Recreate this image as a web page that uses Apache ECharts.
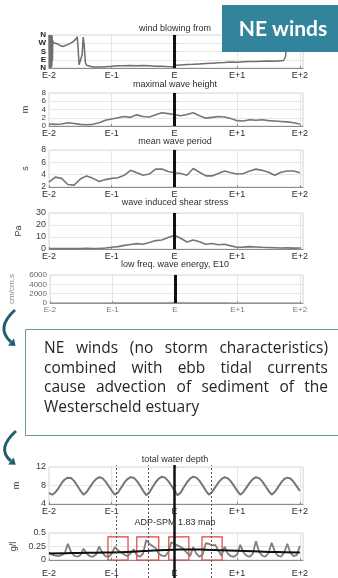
<!DOCTYPE html>
<html>
<head>
<meta charset="utf-8">
<script src="https://cdn.jsdelivr.net/npm/echarts@6/dist/echarts.min.js"></script>
<style>
  html, body { margin: 0; padding: 0; background: #fff; }
  #c { width: 338px; height: 578px; }
</style>
</head>
<body>
<div id="c"></div>
<script>
// ---- time axis: days relative to the event E ----
const dayLabels = { '-2': 'E-2', '-1': 'E-1', '0': 'E', '1': 'E+1', '2': 'E+2' };
const dirLabels = { 0: 'N', 90: 'E', 180: 'S', 270: 'W', 360: 'N' };
const eventMark = [0];

// ---- wind direction (degrees, irregular sampling) ----
const windTime = [-2.000, -1.995, -1.990, -1.985, -1.980, -1.975, -1.970, -1.965, -1.960, -1.955, -1.950, -1.945,
  -1.94, -1.93, -1.90, -1.86, -1.82, -1.78, -1.74, -1.70, -1.66, -1.62, -1.58, -1.55, -1.535, -1.52, -1.49, -1.47,
  -1.455, -1.44, -1.42, -1.40, -1.37, -1.30, -1.20, -1.10, -1.00, -0.90, -0.80, -0.70, -0.60, -0.50, -0.40, -0.30,
  -0.20, -0.10, -0.02, 0.02, 0.10, 0.20, 0.30, 0.40, 0.50, 0.60, 0.70, 0.80, 0.90, 1.00, 1.10, 1.20, 1.30, 1.40,
  1.50, 1.60, 1.70, 1.74, 1.77, 1.79, 1.82, 1.87, 1.92, 1.97, 2.02];
const windDir = [360, 0, 360, 0, 360, 0, 360, 0, 360, 20, 350, 80,
  300, 275, 270, 262, 245, 235, 245, 255, 268, 285, 310, 340, 200, 35, 30, 150,
  338, 260, 60, 30, 20, 12, 10, 14, 18, 25, 24, 27, 25, 28, 24, 20,
  18, 15, 14, 30, 34, 38, 40, 44, 48, 52, 56, 60, 66, 64, 68, 72, 70, 74,
  76, 74, 80, 82, 120, 230, 300, 315, 305, 310, 300];

// ---- wave statistics, every 0.1 day from E-2 ----
const WAVE_START = -2, WAVE_STEP = 0.1;
const waveHeight = [0.5, 0.4, 0.5, 0.8, 0.6, 0.4, 0.3, 0.4, 0.8, 1.4,
  1.7, 2.0, 2.3, 2.1, 2.7, 2.3, 2.2, 2.7, 3.2, 3.0,
  2.8, 2.5, 2.8, 3.2, 2.5, 1.9, 2.1, 2.3, 2.2, 1.8,
  1.3, 1.2, 1.5, 1.4, 1.5, 1.3, 1.2, 1.1, 1.0, 0.8, 0.5];
const wavePeriod = [2.8, 3.6, 3.4, 2.4, 2.3, 3.3, 3.8, 3.4, 2.9, 3.2,
  3.4, 3.5, 3.9, 4.7, 4.3, 3.9, 4.1, 4.9, 4.9, 4.5,
  4.3, 4.2, 3.9, 5.0, 4.4, 3.8, 3.8, 4.2, 4.6, 4.3,
  4.1, 4.2, 4.6, 4.9, 4.7, 4.4, 3.9, 4.4, 4.6, 4.6, 4.3];
const shearStress = [0.3, 0.3, 0.3, 0.4, 0.3, 0.4, 0.5, 0.4, 0.5, 0.8,
  1.5, 2.0, 3.0, 3.8, 4.5, 4.0, 5.5, 7.0, 7.5, 9.5,
  11.5, 9.0, 5.8, 7.5, 6.0, 4.0, 4.6, 3.5, 4.0, 2.6,
  1.4, 1.6, 2.0, 1.7, 1.4, 1.2, 1.0, 0.8, 0.9, 0.7, 0.8];
const lowFreqEnergy = [40, 35, 30, 45, 50, 40, 35, 30, 40, 55,
  60, 70, 65, 80, 75, 90, 85, 100, 110, 120,
  140, 120, 100, 90, 85, 80, 70, 65, 60, 55,
  50, 45, 50, 40, 45, 40, 35, 40, 30, 35, 30];

// ---- in-situ station, every 0.05 day from E-2 ----
const TIDE_START = -2, TIDE_STEP = 0.05;
const waterDepth = [6.4, 6.0, 6.5, 7.4, 8.5, 9.3, 9.7, 9.6, 9.0, 8.0,
  6.9, 6.0, 6.6, 7.6, 8.6, 9.4, 9.8, 9.6, 8.9, 7.9,
  6.9, 6.0, 6.5, 7.5, 8.6, 9.4, 9.8, 9.7, 9.0, 8.0,
  6.9, 5.9, 6.5, 7.6, 8.7, 9.5, 9.9, 9.7, 9.0, 8.0,
  6.9, 5.9, 6.5, 7.6, 8.7, 9.5, 9.9, 9.7, 9.0, 8.0,
  6.9, 6.0, 6.6, 7.6, 8.6, 9.4, 9.8, 9.6, 8.9, 7.9,
  6.9, 6.0, 6.6, 7.6, 8.6, 9.4, 9.8, 9.6, 8.9, 7.9,
  6.9, 6.0, 6.6, 7.6, 8.6, 9.4, 9.7, 9.5, 8.8, 7.8, 6.8];
const spm = [0.14, 0.10, 0.08, 0.07, 0.09, 0.12, 0.30, 0.15, 0.08, 0.06,
  0.09, 0.21, 0.12, 0.07, 0.06, 0.10, 0.25, 0.13, 0.07, 0.06,
  0.12, 0.24, 0.18, 0.14, 0.10, 0.07, 0.12, 0.20, 0.09, 0.06,
  0.12, 0.37, 0.30, 0.26, 0.22, 0.12, 0.08, 0.07, 0.14, 0.33,
  0.30, 0.27, 0.24, 0.20, 0.13, 0.07, 0.24, 0.12, 0.06, 0.10,
  0.31, 0.30, 0.27, 0.28, 0.18, 0.08, 0.25, 0.12, 0.07, 0.06,
  0.10, 0.28, 0.14, 0.08, 0.06, 0.12, 0.35, 0.15, 0.08, 0.06,
  0.13, 0.32, 0.16, 0.08, 0.06, 0.14, 0.30, 0.13, 0.07, 0.09, 0.26];
const TREND_START = -2, TREND_STEP = 0.25;
const spmTrend = [0.12, 0.125, 0.13, 0.135, 0.14, 0.15, 0.165, 0.18, 0.19,
  0.195, 0.19, 0.18, 0.17, 0.16, 0.15, 0.145, 0.14];

// ebb phases highlighted in the SPM record, and low-water times
const ebbStart = [-1.06, -0.60, -0.09, 0.44];
const ebbEnd = [-0.74, -0.25, 0.23, 0.76];
const ebbTop = 0.43;
const lowWater = [-0.92, -0.42, 0.58];

const noteLines = [
  'NE winds (no storm characteristics)',
  'combined with ebb tidal currents',
  'cause advection of sediment of the',
  'Westerscheld estuary'
];

// ---------------------------------------------------------------
const FONT = 'Liberation Sans, Arial, sans-serif';
const LINE_GREY = '#767676';
const X_MIN = -2, X_MAX = 2.05;
const PLOT_LEFT = 49, PLOT_WIDTH = 254;

const withTime = (vals, start, step) =>
  vals.map((v, i) => [Math.round((start + i * step) * 1000) / 1000, v]);

const panels = [
  { title: 'wind blowing from', titleY: 29, top: 35, h: 33, min: 0, max: 360, step: 90, unit: '', gap: 0, fmt: v => dirLabels[v] ?? '', yBold: true, ySize: 8 },
  { title: 'maximal wave height', titleY: 85, top: 93, h: 33, min: 0, max: 8, step: 2, unit: 'm', gap: 19, ySize: 8 },
  { title: 'mean wave period', titleY: 142, top: 150, h: 37, min: 2, max: 8, step: 2, unit: 's', gap: 19, ySize: 8.5 },
  { title: 'wave induced shear stress', titleY: 203, top: 213, h: 36, min: 0, max: 30, step: 10, unit: 'Pa', gap: 26, ySize: 9 },
  { title: 'low freq. wave energy, E10', titleY: 265, top: 275, h: 28, min: 0, max: 6000, step: 2000, unit: 'cm/cm.s', gap: 34, light: true, ySize: 8 },
  { title: 'total water depth', titleY: 460, top: 467, h: 37, min: 4, max: 12, step: 4, unit: 'm', gap: 28, ySize: 9 },
  { title: 'ADP-SPM 1.83 mab', titleY: 523, top: 533, h: 36, min: 0, max: 0.5, step: 0.25, unit: 'g/l', gap: 31, ySize: 9, xMargin: 9 }
];

const grids = [], xAxes = [], yAxes = [], graphics = [];
panels.forEach((p, i) => {
  grids.push({ left: PLOT_LEFT, width: PLOT_WIDTH, top: p.top, height: p.h, show: true, borderColor: '#d9d9d9', borderWidth: 1, containLabel: false });
  xAxes.push({
    type: 'value', gridIndex: i, min: X_MIN, max: X_MAX, interval: 1,
    axisLine: { show: true, onZero: false, lineStyle: { color: '#8c8c8c', width: 1 } },
    axisTick: { show: true, inside: true, length: 2, lineStyle: { color: '#8c8c8c' } },
    splitLine: { show: true, lineStyle: { color: '#e6e6e6', width: 1 } },
    axisLabel: {
      formatter: v => dayLabels[String(Math.round(v * 1000) / 1000)] ?? '',
      fontSize: p.light ? 8 : 9, color: p.light ? '#777' : '#2a2a2a', fontFamily: FONT, margin: p.xMargin || 3,
      showMinLabel: true, showMaxLabel: false, hideOverlap: false
    }
  });
  yAxes.push({
    type: 'value', gridIndex: i, min: p.min, max: p.max, interval: p.step,
    name: p.unit, nameLocation: 'middle', nameRotate: 90, nameGap: p.gap,
    nameTextStyle: { fontSize: p.light ? 8 : 9, color: p.light ? '#888' : '#3a3a3a', fontFamily: FONT },
    axisLine: { show: true, lineStyle: { color: '#8c8c8c', width: 1 } },
    axisTick: { show: true, inside: true, length: 2, lineStyle: { color: '#8c8c8c' } },
    splitLine: { show: true, lineStyle: { color: '#e6e6e6', width: 1 } },
    axisLabel: {
      formatter: p.fmt || (v => String(v)),
      fontSize: p.ySize, fontWeight: p.yBold ? 'bold' : 'normal',
      color: p.light ? '#666' : (p.yBold ? '#222' : '#3a3a3a'), fontFamily: FONT, margin: 3,
      lineHeight: p.ySize, showMinLabel: true, showMaxLabel: true, hideOverlap: false
    }
  });
  graphics.push({
    type: 'text', x: 175, y: p.titleY, z: 10,
    style: { text: p.title, fill: '#2e2e2e', font: '9px ' + FONT, textAlign: 'center', textVerticalAlign: 'middle' }
  });
});

// overlay spanning both station panels for the low-water and event markers
grids.push({ left: PLOT_LEFT, width: PLOT_WIDTH, top: 465, height: 113, show: false });
xAxes.push({ type: 'value', gridIndex: 7, min: X_MIN, max: X_MAX, show: false });
yAxes.push({ type: 'value', gridIndex: 7, min: 0, max: 1, show: false });

const eLine = w => ({
  symbol: ['none', 'none'], silent: true, animation: false, label: { show: false },
  lineStyle: { color: '#111', width: w, type: 'solid' },
  emphasis: { disabled: true },
  data: eventMark.map(v => ({ xAxis: v }))
});

const lineSeries = (idx, data, extra) => Object.assign({
  type: 'line', xAxisIndex: idx, yAxisIndex: idx, data, showSymbol: false, symbol: 'none',
  lineStyle: { color: LINE_GREY, width: 1.6 }, animation: false, silent: true, z: 3
}, extra || {});

const series = [
  lineSeries(0, windTime.map((t, i) => [t, windDir[i]]), { lineStyle: { color: '#6e6e6e', width: 1.5 }, markLine: eLine(3) }),
  lineSeries(1, withTime(waveHeight, WAVE_START, WAVE_STEP), { markLine: eLine(3) }),
  lineSeries(2, withTime(wavePeriod, WAVE_START, WAVE_STEP), { markLine: eLine(3) }),
  lineSeries(3, withTime(shearStress, WAVE_START, WAVE_STEP), { markLine: eLine(3) }),
  lineSeries(4, withTime(lowFreqEnergy, WAVE_START, WAVE_STEP), { lineStyle: { color: '#aaa', width: 1.2 }, markLine: eLine(3) }),
  lineSeries(5, withTime(waterDepth, TIDE_START, TIDE_STEP), { lineStyle: { color: LINE_GREY, width: 2 } }),
  lineSeries(6, withTime(spm, TIDE_START, TIDE_STEP), {
    lineStyle: { color: '#7f7f7f', width: 1.8 },
    markArea: {
      silent: true, animation: false,
      itemStyle: { color: 'rgba(0,0,0,0)', borderColor: '#e0403a', borderWidth: 1.2 },
      label: { show: false },
      data: ebbStart.map((s, i) => [{ xAxis: s, yAxis: 0 }, { xAxis: ebbEnd[i], yAxis: ebbTop }])
    }
  }),
  lineSeries(6, withTime(spmTrend, TREND_START, TREND_STEP), { smooth: true, lineStyle: { color: '#111', width: 2 }, z: 4 }),
  lineSeries(7, [[X_MIN, 0.5]], {
    lineStyle: { width: 0, opacity: 0 }, z: 5,
    markLine: {
      symbol: ['none', 'none'], silent: true, animation: false, label: { show: false },
      data: lowWater.map(v => ({ xAxis: v, lineStyle: { color: '#555', width: 1, type: [2, 2] } }))
        .concat(eventMark.map(v => ({ xAxis: v, lineStyle: { color: '#111', width: 2.5, type: 'solid' } })))
    }
  })
];

// ---- label badge ----
graphics.push({ type: 'rect', z: 100, shape: { x: 222, y: 5, width: 116, height: 47 }, style: { fill: '#31849b' } });
graphics.push({ type: 'text', z: 101, x: 283, y: 29, style: { text: 'NE winds', fill: '#ffffff', font: 'bold 21px Lato, sans-serif', textAlign: 'center', textVerticalAlign: 'middle' } });

// ---- note box with justified text ----
graphics.push({ type: 'rect', z: 50, shape: { x: 25.5, y: 329.5, width: 330, height: 106 }, style: { fill: '#fff', stroke: '#6a95a1', lineWidth: 1 } });
const NOTE_FONT = '15.5px "Open Sans", sans-serif';
const noteLeft = 44, noteRight = 328, noteY = [349, 368.5, 388, 408];
const ctx = document.createElement('canvas').getContext('2d');
ctx.font = NOTE_FONT;
noteLines.forEach((line, i) => {
  const words = line.split(' ');
  const widths = words.map(w => ctx.measureText(w).width);
  const total = widths.reduce((a, b) => a + b, 0);
  const isLast = i === noteLines.length - 1;
  const gap = isLast ? ctx.measureText(' ').width : (noteRight - noteLeft - total) / (words.length - 1);
  let x = noteLeft;
  words.forEach((w, j) => {
    graphics.push({ type: 'text', z: 51, x: x, y: noteY[i], style: { text: w, font: NOTE_FONT, fill: '#262626', textAlign: 'left', textVerticalAlign: 'middle' } });
    x += widths[j] + gap;
  });
});

// ---- curved connector arrows ----
function curvedArrow(x1, y1, cx, cy, x2, y2) {
  const color = '#1f5f6e';
  const dx = x2 - cx, dy = y2 - cy, len = Math.hypot(dx, dy);
  const ux = dx / len, uy = dy / len;
  const tipX = x2 + ux * 6, tipY = y2 + uy * 6;
  graphics.push({ type: 'bezierCurve', z: 60, shape: { x1, y1, cpx1: cx, cpy1: cy, x2, y2 }, style: { stroke: color, lineWidth: 3, fill: null } });
  graphics.push({ type: 'polygon', z: 60, shape: { points: [[tipX, tipY], [x2 - uy * 4.5, y2 + ux * 4.5], [x2 + uy * 4.5, y2 - ux * 4.5]] }, style: { fill: color } });
}
curvedArrow(15, 310, -5, 328, 11, 342);
curvedArrow(16, 431, -4, 449, 11, 461);

const chart = echarts.init(document.getElementById('c'), null, { renderer: 'canvas', width: 338, height: 578 });
chart.setOption({
  animation: false,
  backgroundColor: '#ffffff',
  textStyle: { fontFamily: FONT },
  grid: grids,
  xAxis: xAxes,
  yAxis: yAxes,
  series: series,
  graphic: graphics
});
</script>
</body>
</html>
